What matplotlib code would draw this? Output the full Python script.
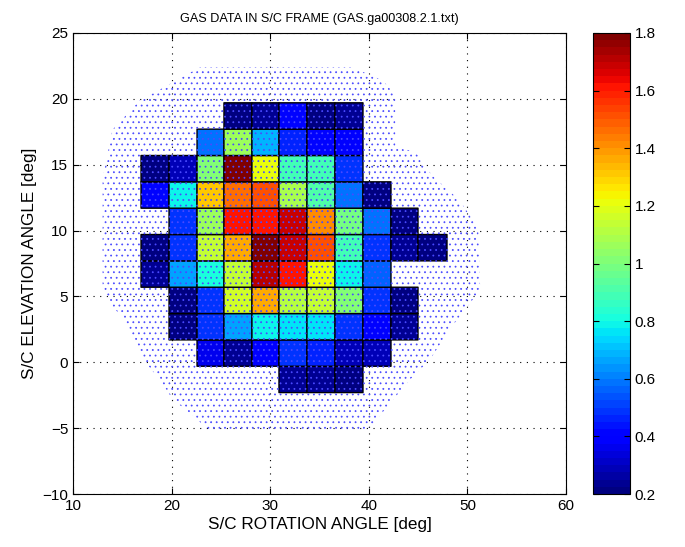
import numpy as np
import matplotlib.pyplot as plt
from matplotlib.patches import Polygon
from matplotlib.ticker import FormatStrFormatter

plt.rcParams['font.family'] = ['Liberation Sans', 'DejaVu Sans']
plt.rcParams['hatch.linewidth'] = 0.55

nan = np.nan

# cell edges of the gas map (deg)
rot_edges = [16.9, 19.74, 22.58, 25.31, 28.15, 30.89, 33.73, 36.57, 39.41, 42.25, 44.99, 47.93]
elev_edges = [-2.3, -0.3, 1.7, 3.7, 5.7, 7.7, 9.7, 11.7, 13.7, 15.7, 17.7, 19.7]

# cell values, bottom row first (nan = no data)
gas_rows = [
    [nan, nan, nan, nan, nan, 0.25, 0.25, 0.22, nan, nan, nan],
    [nan, nan, 0.37, 0.25, 0.38, 0.48, 0.45, 0.30, 0.28, nan, nan],
    [nan, 0.20, 0.50, 0.65, 0.78, 0.77, 0.77, 0.50, 0.38, 0.25, nan],
    [nan, 0.22, 0.50, 1.17, 1.35, 1.10, 1.15, 1.00, 0.50, 0.22, nan],
    [0.25, 0.65, 0.80, 1.15, 1.70, 1.62, 1.20, 0.78, 0.55, nan, nan],
    [0.22, 0.50, 1.15, 1.35, 1.78, 1.68, 1.52, 0.90, 0.50, 0.25, 0.20],
    [nan, 0.50, 1.05, 1.62, 1.60, 1.68, 1.42, 0.98, 0.60, 0.22, nan],
    [0.42, 0.78, 1.30, 1.45, 1.52, 1.08, 0.92, 0.60, 0.22, nan, nan],
    [0.20, 0.28, 1.00, 1.80, 1.20, 0.90, 0.88, 0.50, nan, nan, nan],
    [nan, nan, 0.60, 1.05, 0.70, 0.45, 0.40, 0.38, nan, nan, nan],
    [nan, nan, nan, 0.20, 0.25, 0.40, 0.20, 0.25, nan, nan, nan],
]

# outline of the scanned area (dotted region)
cover_rot = [22.9, 38.3, 41.4, 42.7, 42.7, 44.7, 46.4, 49.2, 51.1, 51.3, 48.2, 46.2, 44.2,
             42.5, 40.4, 39.6, 23.9, 21.9, 20.1, 18.8, 17.1, 16.1, 15.1, 13.75, 13.0,
             13.0, 14.0, 16.8, 18.8, 21.9]
cover_elev = [22.4, 22.4, 21.4, 20.3, 16.3, 16.0, 14.2, 12.3, 10.2, 5.5, 2.5, 0.2, -1.3,
              -2.8, -4.7, -5.2, -5.2, -3.9, -2.8, -1.3, 0.2, 1.7, 3.3, 4.5, 5.5,
              13.9, 17.65, 19.9, 20.7, 22.0]

fig = plt.figure(figsize=(6.85, 5.47), dpi=100)
ax = fig.add_axes([73 / 685, 53 / 547, 493 / 685, 461 / 547])

# pcolor skips the masked (empty) cells entirely
gas = np.ma.masked_invalid(np.array(gas_rows))
mesh = ax.pcolor(rot_edges, elev_edges, gas, cmap=plt.get_cmap('jet', 64),
                 vmin=0.2, vmax=1.8, edgecolors='k', linewidth=1.0, zorder=2)

cover = Polygon(np.column_stack([cover_rot, cover_elev]), closed=True, fill=False,
                hatch='...', edgecolor='#4a4aff', linewidth=0, zorder=3)
ax.add_patch(cover)

ax.set_xlim(10, 60)
ax.set_ylim(-10, 25)
ax.set_xticks(range(10, 61, 10))
ax.set_yticks(range(-10, 26, 5))
ax.grid(True, color='k', linestyle=(0, (1, 5)), linewidth=0.8)
ax.set_axisbelow(True)
ax.tick_params(direction='in', top=True, right=True, length=4, labelsize=11)

ax.set_title('GAS DATA IN S/C FRAME (GAS.ga00308.2.1.txt)', fontsize=9.1, pad=8)
ax.set_xlabel('S/C ROTATION ANGLE [deg]', fontsize=12.3, labelpad=3)
ax.set_ylabel('S/C ELEVATION ANGLE [deg]', fontsize=12.3, labelpad=4)

# colour bar
cax = fig.add_axes([593 / 685, 53 / 547, 37 / 685, 461 / 547])
cb = fig.colorbar(mesh, cax=cax, ticks=np.arange(0.2, 1.81, 0.2))
cb.ax.yaxis.set_major_formatter(FormatStrFormatter('%g'))
cb.ax.tick_params(direction='in', left=True, right=True, length=4, labelsize=11)
cb.outline.set_linewidth(0.8)

fig.savefig('out.png', dpi=100)
